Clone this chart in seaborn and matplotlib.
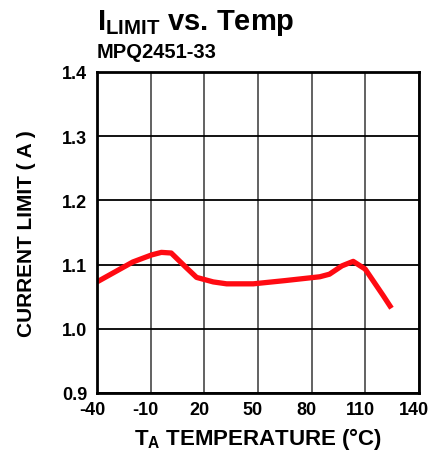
import matplotlib
matplotlib.use("Agg")
import matplotlib.pyplot as plt
import matplotlib.transforms as mtransforms
import seaborn as sns
import pandas as pd

# ── Data ──────────────────────────────────────────────────────────────────────
temp_c = [-40, -20, -9.5, -4, 1.5, 10, 15.7, 25, 32.5, 47.4, 65, 84.6, 90,
          97, 103.3, 110, 120, 124.7]
i_limit = [1.073, 1.104, 1.115, 1.119, 1.118, 1.095, 1.080, 1.073, 1.070,
           1.070, 1.075, 1.081, 1.085, 1.098, 1.105, 1.093, 1.052, 1.032]

x_ticks = [-40, -10, 20, 50, 80, 110, 140]
y_ticks = [0.9, 1.0, 1.1, 1.2, 1.3, 1.4]

df = pd.DataFrame({"temp": temp_c, "ilimit": i_limit})

sns.set_style("white")
plt.rcParams["font.family"] = ["Liberation Sans", "DejaVu Sans"]
plt.rcParams["font.weight"] = "bold"
plt.rcParams["text.color"] = "black"
plt.rcParams["axes.labelcolor"] = "black"
plt.rcParams["xtick.color"] = "black"
plt.rcParams["ytick.color"] = "black"
plt.rcParams["mathtext.fontset"] = "custom"
plt.rcParams["mathtext.rm"] = "Liberation Sans:bold"
plt.rcParams["mathtext.bf"] = "Liberation Sans:bold"
plt.rcParams["mathtext.it"] = "Liberation Sans:bold"

fig = plt.figure(figsize=(4.3, 4.56), dpi=100)
ax = fig.add_axes([0.2256, 0.136, 0.7484, 0.704])

sns.lineplot(data=df, x="temp", y="ilimit", ax=ax, color="#ff0a12",
             linewidth=3.8, solid_capstyle="butt")

ax.set_xlim(-40, 140)
ax.set_ylim(0.9, 1.4)
ax.set_xticks(x_ticks)
ax.set_yticks(y_ticks)
ax.set_xticklabels([str(t) for t in x_ticks], fontsize=13, fontweight="bold")
ax.set_yticklabels([f"{t:.1f}" for t in y_ticks], fontsize=13, fontweight="bold")
ax.tick_params(axis="x", length=0, pad=6)
ax.tick_params(axis="y", length=0, pad=7)

# labels in the reference sit a little left of their gridlines
shift = mtransforms.ScaledTranslation(-5 / 100, 0, fig.dpi_scale_trans)
for lbl in ax.get_xticklabels():
    lbl.set_transform(lbl.get_transform() + shift)

ax.xaxis.grid(True, color="#555555", linewidth=1.3)
ax.yaxis.grid(True, color="black", linewidth=1.3)
ax.set_axisbelow(True)
for s in ax.spines.values():
    s.set_visible(True)
    s.set_color("black")
    s.set_linewidth(2)

ax.set_xlabel(r"T$_{\mathrm{A}}$ TEMPERATURE (°C)", fontsize=16,
              fontweight="bold", labelpad=5)
ax.set_ylabel("CURRENT LIMIT ( A )", fontsize=15, fontweight="bold",
              labelpad=19)

fig.text(97 / 430, 1 - 30 / 456, r"I$_{\mathrm{LIMIT}}$ vs. Temp",
         fontsize=21, fontweight="bold", ha="left", va="baseline")
fig.text(97 / 430, 1 - 58 / 456, "MPQ2451-33", fontsize=14.5,
         fontweight="bold", ha="left", va="baseline")

fig.savefig("out.png", dpi=100)
